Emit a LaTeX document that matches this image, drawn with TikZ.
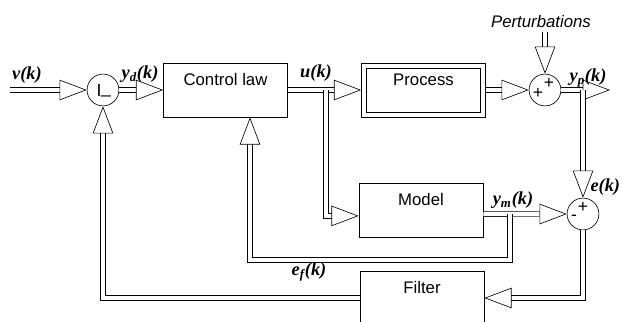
\documentclass[tikz,border=0pt]{standalone}
\usepackage{fontspec}
\setmainfont{Liberation Sans}
\newfontfamily\lblfont{Liberation Serif}
\usetikzlibrary{arrows.meta}

\begin{document}
\begin{tikzpicture}[x=0.022cm, y=-0.022cm,
      every node/.style={font=\fontsize{10.5}{12}\selectfont},
      blk/.style={draw, thin, minimum width=2.73cm, inner xsep=0pt, inner ysep=0.2cm, text height=0.3cm, text depth=0.49cm},
      sumn/.style={draw, thin, circle, minimum size=0.7cm, inner sep=0pt},
      sgn/.style={font=\fontsize{11}{12}\selectfont, inner sep=0pt},
      lbl/.style={font=\fontsize{11.5}{13}\selectfont\lblfont\bfseries\itshape, inner sep=1pt},
      dar/.style={double, double distance=0.09cm, thin, -{Triangle[open, length=0.6cm, width=0.45cm]}}]
  \clip (0,0) rectangle (622,322);
  \node[blk] (ctrl) at (225.5,90) {Control law};
  \node[blk] (proc) at (423.5,90) {Process};
  \draw[thin] ([shift={(0.12cm,-0.12cm)}]proc.north west) rectangle ([shift={(-0.12cm,0.12cm)}]proc.south east);
  \node[blk] (model) at (421,210) {Model};
  \node[blk] (filt) at (422,298) {Filter};
  \node[sumn] (sum1) at (103,90) {};
  \node[sumn] (sum2) at (545,90) {};
  \node[sumn] (sum3) at (583,214) {};
  \node[sgn] (s1a) at (99,90) {I};
  \node[sgn] (s1b) at (106,95) {\_};
  \node[sgn] (s2a) at (549,83) {+};
  \node[sgn] (s2b) at (538,93) {+};
  \node[sgn] (s3a) at (583,207) {+};
  \node[sgn] (s3b) at (574,218) {-};
  \node[font=\fontsize{10.5}{12}\selectfont\itshape] (pertlab) at (541,22) {Perturbations};
  \node[lbl] (vlab) at (27,75) {v(k)};
  \node[lbl] (ydlab) at (140,74) {y\textsubscript{d}(k)};
  \node[lbl] (ulab) at (316,73) {u(k)};
  \node[lbl] (yplab) at (588,78) {y\textsubscript{p}(k)};
  \node[lbl] (ymlab) at (513,200) {y\textsubscript{m}(k)};
  \node[lbl, anchor=east] (elab) at (622,187) {e(k)};
  \node[lbl] (eflab) at (309,272) {e\textsubscript{f}(k)};
  \coordinate (vin) at (10,90);
  \coordinate (yout) at (610,90);
  \coordinate (pert) at (545,32);
  \coordinate (yb) at (583,90);
  \coordinate (ub) at (326,90);
  \coordinate (mb) at (510,214);
  \coordinate (efc) at (250,260);
  \draw[dar] (vin) -- (sum1);
  \draw[dar] (sum1) -- (ctrl);
  \draw[dar] (ctrl) -- (proc);
  \draw[dar] (proc) -- (sum2);
  \draw[dar] (sum2) -- (yout);
  \draw[dar] (pert) -- (sum2);
  \draw[dar] (yb) -- (sum3);
  \draw[dar] (ub) |- ([yshift=-0.13cm]model.west);
  \draw[dar] ([yshift=-0.09cm]model.east) -- (sum3);
  \draw[dar] (mb) |- (efc) -- (efc |- ctrl.south);
  \draw[dar] (sum3) |- (filt);
  \draw[dar] (filt) -| (sum1);
\end{tikzpicture}
\end{document}
